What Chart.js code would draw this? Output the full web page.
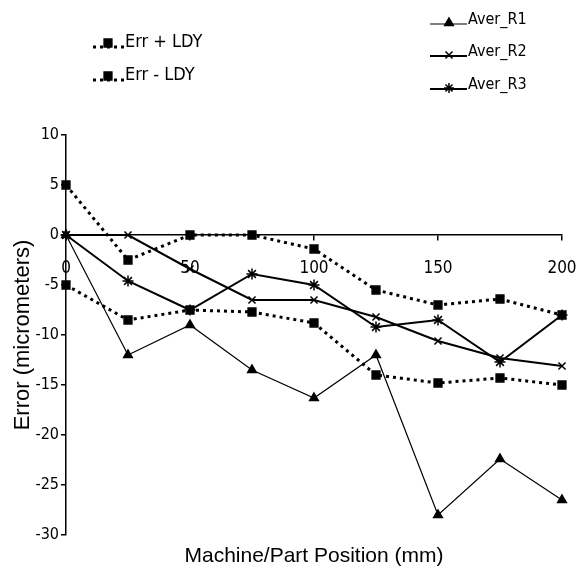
<!DOCTYPE html>
<html>
<head>
<meta charset="utf-8">
<script src="https://cdn.jsdelivr.net/npm/chart.js@4/dist/chart.umd.min.js"></script>
<style>
html,body{margin:0;padding:0;background:#fff;}
#wrap{position:relative;width:579px;height:571px;}
</style>
</head>
<body>
<div id="wrap"><canvas id="c" width="579" height="571"></canvas></div>
<script>
const positions = [0, 25, 50, 75, 100, 125, 150, 175, 200];
const errPlus  = [5, -2.5, 0, 0, -1.4, -5.5, -7, -6.4, -8];
const errMinus = [-5, -8.5, -7.5, -7.7, -8.8, -14, -14.8, -14.3, -15];
const averR1   = [0, -12, -9, -13.5, -16.3, -12, -28, -22.4, -26.5];
const averR2   = [0, 0, -3.4, -6.5, -6.5, -8.2, -10.6, -12.3, -13.1];
const averR3   = [0, -4.6, -7.5, -3.9, -5, -9.2, -8.5, -12.7, -8];
const seriesNames = ['Err + LDY', 'Err - LDY', 'Aver_R1', 'Aver_R2', 'Aver_R3'];
const xTicks = [0, 50, 100, 150, 200];
const yTicks = [10, 5, 0, -5, -10, -15, -20, -25, -30];
const xTitle = 'Machine/Part Position (mm)';
const yTitle = 'Error (micrometers)';

const NARROW = "'DejaVu Sans Condensed', 'Liberation Sans Narrow', 'Liberation Sans', sans-serif";
const SANS = "'Liberation Sans', Arial, sans-serif";

function pts(arr){ return positions.map((x,i)=>({x:x, y:arr[i]})); }

const styles = [
  {pointStyle:'rect', radius:5.5, dash:[3,4], width:3},
  {pointStyle:'rect', radius:5.5, dash:[3,4], width:3},
  {pointStyle:'triangle', radius:5, dash:[], width:1.2},
  {pointStyle:'crossRot', radius:5, dash:[], width:2},
  {pointStyle:'star', radius:5.5, dash:[], width:2}
];
const values = [errPlus, errMinus, averR1, averR2, averR3];

const datasets = values.map((v,i)=>({
  label: seriesNames[i],
  data: pts(v),
  borderColor:'#000',
  backgroundColor:'#000',
  borderWidth: styles[i].width,
  borderDash: styles[i].dash,
  pointStyle: styles[i].pointStyle,
  pointRadius: styles[i].radius,
  pointBorderWidth: 1.5,
  pointBackgroundColor:'#000',
  pointBorderColor:'#000',
  tension:0,
  clip:false
}));

const legendPlugin = {
  id:'customLegend',
  afterDraw(chart){
    const ctx = chart.ctx;
    ctx.save();
    ctx.fillStyle='#000'; ctx.strokeStyle='#000';
    ctx.textBaseline='middle';
    ctx.font = "18px " + NARROW;
    const left = [{i:0,y:42},{i:1,y:75}];
    left.forEach(o=>{
      const s = styles[o.i];
      ctx.save();
      ctx.lineWidth = 3; ctx.setLineDash([3,4]);
      ctx.beginPath(); ctx.moveTo(93,o.y+5); ctx.lineTo(124,o.y+5); ctx.stroke();
      ctx.restore();
      Chart.helpers.drawPoint(ctx,{pointStyle:s.pointStyle,radius:5.5,borderWidth:1.5,rotation:0},108,o.y+1);
      ctx.fillText(seriesNames[o.i],125,o.y);
    });
    ctx.font = "16px " + NARROW;
    const right = [{i:2,y:20},{i:3,y:52},{i:4,y:85}];
    right.forEach(o=>{
      const s = styles[o.i];
      ctx.save();
      ctx.lineWidth = s.width;
      ctx.beginPath(); ctx.moveTo(430,o.y+4); ctx.lineTo(467,o.y+4); ctx.stroke();
      ctx.restore();
      Chart.helpers.drawPoint(ctx,{pointStyle:s.pointStyle,radius:5,borderWidth:1.5,rotation:0},449,o.y+3);
      ctx.fillText(seriesNames[o.i],468,o.y);
    });
    ctx.restore();
  }
};

function noSidePad(s){ s.paddingLeft = 0; s.paddingRight = 0; }

new Chart(document.getElementById('c'),{
  type:'line',
  data:{datasets},
  plugins:[legendPlugin],
  options:{
    responsive:false,
    animation:false,
    layout:{padding:{top:135,right:17,left:0,bottom:0}},
    plugins:{legend:{display:false},tooltip:{enabled:false}},
    scales:{
      x:{
        type:'linear',
        min:0,max:200,
        position:{y:0},
        afterBuildTicks(s){ s.ticks = xTicks.map(v=>({value:v})); },
        afterFit: noSidePad,
        grid:{display:true,drawOnChartArea:false,drawTicks:true,tickLength:5,color:'#000',lineWidth:1.5},
        border:{display:true,color:'#000',width:1.5},
        ticks:{color:'#000',padding:18,font:{family:NARROW,size:17},maxRotation:0,autoSkip:false}
      },
      x2:{
        type:'linear',
        position:'bottom',
        min:0,max:200,
        grid:{display:false},
        border:{display:false},
        ticks:{display:false},
        title:{display:true,text:xTitle,color:'#000',font:{family:SANS,size:21},padding:{top:3,bottom:2}},
        afterFit(s){ s.height = 36; s.paddingLeft = 0; s.paddingRight = 0; }
      },
      y:{
        type:'linear',
        min:-30,max:10,
        afterBuildTicks(s){ s.ticks = yTicks.map(v=>({value:v})); },
        grid:{display:true,drawOnChartArea:false,drawTicks:true,tickLength:5,color:'#000',lineWidth:1.5},
        border:{display:true,color:'#000',width:1.5},
        ticks:{color:'#000',padding:2,font:{family:NARROW,size:16}},
        title:{display:true,text:yTitle,color:'#000',font:{family:SANS,size:22},padding:{top:10,bottom:0}},
        afterFit(s){ s.width = 66; }
      }
    }
  }
});
</script>
</body>
</html>
